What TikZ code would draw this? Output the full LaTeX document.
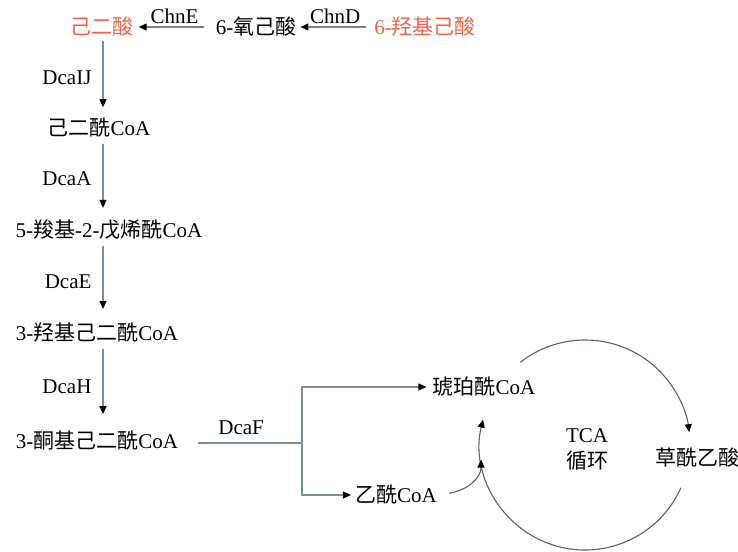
\documentclass[tikz,border=0pt]{standalone}
\usepackage{fontspec}
\setmainfont{Liberation Serif}
\newfontfamily\cjk{Noto Sans CJK SC}
\usetikzlibrary{arrows.meta,calc}
\newcommand\zh[1]{{\cjk #1}}
\definecolor{orng}{RGB}{240,100,70}
\definecolor{lcol}{RGB}{125,140,158}
\definecolor{ccol}{RGB}{85,98,115}
\begin{document}
\begin{tikzpicture}[x=1pt,y=1pt,
  every node/.style={font=\fontsize{21}{24}\selectfont, inner sep=2pt, text=black},
  arr/.style={draw=lcol, line width=1.1pt, -{Triangle[length=8pt,width=7pt,color=black]}},
  tarr/.style={draw=ccol!80, line width=1.3pt, -{Triangle[length=8pt,width=7pt,color=black]}},
  ln/.style={draw=lcol, line width=1.1pt},
  carr/.style={draw=ccol, line width=1.1pt, -{Triangle[length=8pt,width=7pt,color=black]}},
  vstep/.style={arr, shorten <=6pt, shorten >=10pt},
  lab/.style={midway, left=9pt}]
\useasboundingbox (0,0) rectangle (738,-551);
% top row
\node[text=orng] (n1) at (102,-27) {\zh{己二酸}};
\node (n2) at (256,-27) {6-\zh{氧己酸}};
\node[text=orng] (n3) at (425,-27) {6-\zh{羟基己酸}};
\draw[tarr, shorten <=10pt, shorten >=3pt] (n2.west) -- node[above=1pt]{ChnE} (n1.east);
\draw[tarr, shorten <=6pt, shorten >=2pt] (n3.west) -- node[above=1pt]{ChnD} (n2.east);
% column
\coordinate (vx) at (103,0);
\node (c1) at (99,-128) {\zh{己二酰}CoA};
\node (c2) at (109,-230) {5-\zh{羧基}-2-\zh{戊烯酰}CoA};
\node (c3) at (97,-333) {3-\zh{羟基己二酰}CoA};
\node (c4) at (97,-441) {3-\zh{酮基己二酰}CoA};
\draw[vstep, shorten <=2pt, shorten >=9pt] (n1.south -| vx) -- node[lab]{DcaIJ} (c1.north -| vx);
\draw[vstep, shorten <=4pt] (c1.south -| vx) -- node[lab]{DcaA} (c2.north -| vx);
\draw[vstep, shorten <=4pt, shorten >=12pt] (c2.south -| vx) -- node[lab]{DcaE} (c3.north -| vx);
\draw[vstep, shorten <=4pt, shorten >=15pt] (c3.south -| vx) -- node[lab]{DcaH} (c4.north -| vx);
% branch
\coordinate (br) at (302,-443);
\node (succ) at (484,-387) {\zh{琥珀酰}CoA};
\node (acet) at (396,-495) {\zh{乙酰}CoA};
\draw[ln, shorten <=18pt] (c4.east |- br) -- node[above=6pt]{DcaF} (br);
\draw[arr, shorten >=4pt] (br) |- (succ.west);
\draw[arr, shorten >=2pt] (br) |- (acet.west);
% TCA cycle
\coordinate (C) at (585,-445);
\node (tca) at (587,-436) {TCA};
\node (cyc) at (587,-461) {\zh{循环}};
\node (oxa) at (697,-458) {\zh{草酰乙酸}};
\draw[carr] ($(C)+(128:105pt)$) arc[start angle=128, end angle=7, radius=105pt];
\draw[carr] ($(C)+(-24:105pt)$) arc[start angle=-24, end angle=-194, radius=105pt];
\coordinate (jn) at ($(C)+(-172:105pt)$);
\draw[carr, shorten <=10pt] (acet.east) .. controls (468,-490) and (481,-478) .. (jn);
\end{tikzpicture}
\end{document}
